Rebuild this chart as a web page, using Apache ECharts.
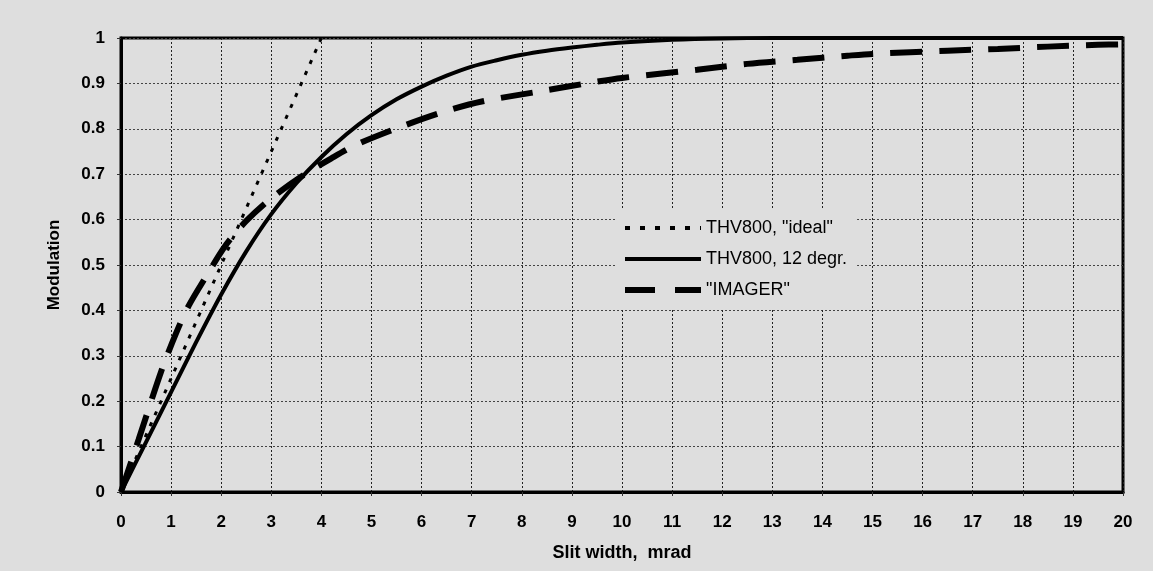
<!DOCTYPE html>
<html>
<head>
<meta charset="utf-8">
<script src="https://cdn.jsdelivr.net/npm/echarts@6/dist/echarts.min.js"></script>
<style>
html,body{margin:0;padding:0;background:#dedede;}
#chart{width:1153px;height:571px;}
</style>
</head>
<body>
<div id="chart"></div>
<script>
// Data
const seriesNames = ['THV800, "ideal"', 'THV800, 12 degr.', '"IMAGER"'];

const idealX = [0, 4];
const idealY = [0, 1];

const degrX = [0, 0.5, 1, 1.5, 2, 2.5, 3, 3.5, 4, 4.5, 5, 5.5, 6, 6.5, 7, 7.5, 8, 8.5, 9, 9.5, 10, 11, 12, 13, 20];
const degrY = [0, 0.11, 0.22, 0.33, 0.435, 0.53, 0.612, 0.68, 0.738, 0.788, 0.83, 0.865, 0.893, 0.917, 0.937, 0.951, 0.963, 0.972, 0.979, 0.985, 0.99, 0.996, 0.999, 1, 1];

const imagerX = [0, 0.35, 0.8, 1.1, 1.35, 1.7, 2.1, 2.5, 3, 3.6, 4.2, 4.7, 5.6, 6.4, 7.2, 8.5, 9.4, 10, 11.5, 12.5, 13.5, 14.5, 15, 16.5, 17.5, 18.5, 19.5, 20];
const imagerY = [0, 0.115, 0.265, 0.35, 0.41, 0.475, 0.545, 0.597, 0.647, 0.695, 0.735, 0.765, 0.805, 0.836, 0.86, 0.885, 0.902, 0.912, 0.93, 0.943, 0.952, 0.961, 0.965, 0.972, 0.976, 0.981, 0.985, 0.986];

const xTicks = [0,1,2,3,4,5,6,7,8,9,10,11,12,13,14,15,16,17,18,19,20];
const yTicks = [0,0.1,0.2,0.3,0.4,0.5,0.6,0.7,0.8,0.9,1];

const xTitle = 'Slit width,  mrad';
const yTitle = 'Modulation';

function pairs(xs, ys){ return xs.map((x,i)=>[x, ys[i]]); }

const BG = '#dedede';
const lineStyles = [
  {color:'#000', width:3, type:[4,8]},
  {color:'#000', width:4, type:'solid'},
  {color:'#000', width:6, type:[32,17]}
];
const legendLineStyles = [
  {color:'#000', width:4, type:[5,10]},
  {color:'#000', width:4, type:'solid'},
  {color:'#000', width:6, type:[30,20]}
];

const chart = echarts.init(document.getElementById('chart'), null, {renderer:'canvas'});
chart.setOption({
  backgroundColor: BG,
  animation: false,
  grid: {left:121, right:30, top:38, bottom:79, show:true, borderColor:'#000', borderWidth:3, backgroundColor:'transparent'},
  xAxis: {
    type:'value', min:0, max:20, interval:1,
    name: xTitle, nameLocation:'middle', nameGap:52,
    nameTextStyle:{fontFamily:'Liberation Sans', fontWeight:'bold', fontSize:18, color:'#000'},
    axisLine:{show:true, onZero:false, lineStyle:{color:'#000', width:3}},
    axisTick:{show:true, length:4, lineStyle:{color:'#333', width:1}},
    axisLabel:{fontFamily:'Liberation Sans', fontWeight:'bold', fontSize:17, color:'#000', margin:22,
      formatter: v => String(Math.round(v))},
    splitLine:{show:true, lineStyle:{color:'#222', width:1, type:[2,2]}}
  },
  yAxis: {
    type:'value', min:0, max:1, interval:0.1,
    name: yTitle, nameLocation:'middle', nameGap:58, nameRotate:90,
    nameTextStyle:{fontFamily:'Liberation Sans', fontWeight:'bold', fontSize:17, color:'#000'},
    axisLine:{show:true, onZero:false, lineStyle:{color:'#000', width:3}},
    axisTick:{show:true, length:4, lineStyle:{color:'#333', width:1}},
    axisLabel:{fontFamily:'Liberation Sans', fontWeight:'bold', fontSize:17, color:'#000', margin:16,
      formatter: v => (Math.abs(v-1)<1e-9 ? '1' : (Math.abs(v)<1e-9 ? '0' : v.toFixed(1)))},
    splitLine:{show:true, lineStyle:{color:'#444', width:1, type:[2,2]}}
  },
  legend: {
    orient:'vertical', left:617, top:210,
    backgroundColor: BG,
    padding:[8,10,10,5],
    itemWidth:76, itemHeight:14, itemGap:11,
    textStyle:{fontFamily:'Liberation Sans', fontSize:18, color:'#000', lineHeight:20},
    data: seriesNames.map((n,i)=>({name:n, itemStyle:{opacity:0}, lineStyle:legendLineStyles[i]}))
  },
  series: [
    {name: seriesNames[0], type:'line', data: pairs(idealX, idealY), showSymbol:false, symbol:'none',
     itemStyle:{color:'#000'}, lineStyle:lineStyles[0], z:3},
    {name: seriesNames[1], type:'line', data: pairs(degrX, degrY), showSymbol:false, symbol:'none',
     smooth:0.3, itemStyle:{color:'#000'}, lineStyle:lineStyles[1], z:4},
    {name: seriesNames[2], type:'line', data: pairs(imagerX, imagerY), showSymbol:false, symbol:'none',
     smooth:0.3, itemStyle:{color:'#000'}, lineStyle:lineStyles[2], z:5}
  ]
});
</script>
</body>
</html>
